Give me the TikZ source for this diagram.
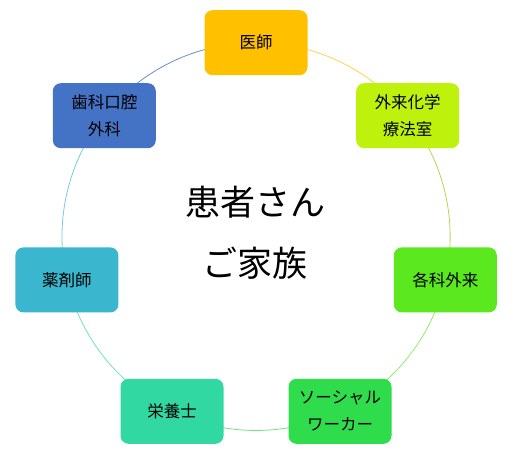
\documentclass[tikz,border=0pt]{standalone}
\usepackage{fontspec}
\setmainfont{Noto Sans CJK JP}
\usepackage{xcolor}
\usetikzlibrary{backgrounds}
\definecolor{docorange}{HTML}{FFC000}
\definecolor{chemlime}{HTML}{BEF20C}
\definecolor{outgreen}{HTML}{5CE81E}
\definecolor{socgreen}{HTML}{2EDC4C}
\definecolor{diettea}{HTML}{32D8A2}
\definecolor{pharmcyan}{HTML}{3AB6CE}
\definecolor{dentblue}{HTML}{4472C4}

\begin{document}
\begin{tikzpicture}[x=1pt,y=1pt]
\tikzstyle{every node}+=[inner sep=0pt]
\tikzstyle{role}=[rectangle, rounded corners=8pt, minimum width=103pt, minimum height=65pt, align=center, font=\fontsize{16.5}{27}\selectfont, text=black]
\tikzstyle{ring}=[line width=0.8pt, bend left=25.7, looseness=0.9]
\useasboundingbox (0,0) rectangle (512,-458);
\node [role, fill=docorange] (doc) at (256,-42.7) {医師};
\node [role, fill=chemlime] (chem) at (407.7,-115.7) {外来化学\\療法室};
\node [role, fill=outgreen] (outpt) at (445.3,-279.9) {各科外来};
\node [role, fill=socgreen] (social) at (340,-411.3) {ソーシャル\\ワーカー};
\node [role, fill=diettea] (diet) at (172,-411.3) {栄養士};
\node [role, fill=pharmcyan] (pharm) at (66.9,-279.9) {薬剤師};
\node [role, fill=dentblue] (dental) at (104.3,-115.7) {歯科口腔\\外科};
\node [font=\fontsize{35}{61}\selectfont, align=center] (patient) at (255,-232.5) {患者さん\\ご家族};
\begin{scope}[on background layer]
\draw [ring, draw=docorange!70] (doc.center) to (chem.center);
\draw [ring, draw=chemlime!80!black!70] (chem.center) to (outpt.center);
\draw [ring, draw=outgreen!70] (outpt.center) to (social.center);
\draw [ring, draw=socgreen!70] (social.center) to (diet.center);
\draw [ring, draw=diettea!70] (diet.center) to (pharm.center);
\draw [ring, draw=pharmcyan!70] (pharm.center) to (dental.center);
\draw [ring, draw=dentblue!80] (dental.center) to (doc.center);
\end{scope}
\end{tikzpicture}
\end{document}
